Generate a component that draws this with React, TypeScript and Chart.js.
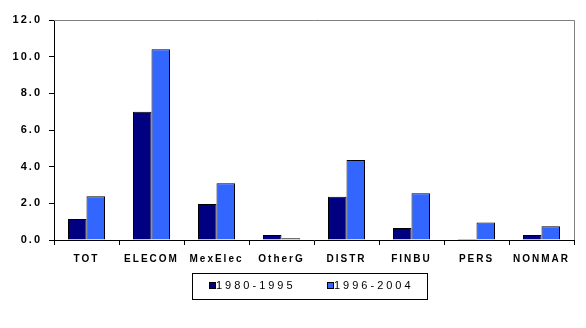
import React, { useEffect, useRef } from "react";
import { Chart, registerables } from "chart.js";

Chart.register(...registerables);

const categories = ["TOT", "ELECOM", "MexElec", "OtherG", "DISTR", "FINBU", "PERS", "NONMAR"];
const series1Label = "1980-1995";
const series2Label = "1996-2004";
const series1 = [1.15, 7.0, 1.96, 0.27, 2.36, 0.65, 0.05, 0.27];
const series2 = [2.38, 10.4, 3.09, 0.09, 4.36, 2.55, 0.96, 0.75];
const yTicks = [0, 2, 4, 6, 8, 10, 12];

const DARK = "#000080";
const LIGHT = "#3366FF";
const FONT = "Arial, 'Liberation Sans', sans-serif";

const spacingPlugin = {
  id: "spacing",
  beforeUpdate(chart: any) {
    chart.ctx.letterSpacing = "2px";
  },
  beforeDraw(chart: any) {
    chart.ctx.letterSpacing = "2px";
  },
  afterDraw(chart: any) {
    const ctx = chart.ctx;
    const a = chart.chartArea;
    ctx.save();
    // gray frame top/right
    ctx.strokeStyle = "#808080";
    ctx.lineWidth = 1;
    ctx.beginPath();
    ctx.moveTo(a.left, a.top + 0.5);
    ctx.lineTo(a.right + 0.5, a.top + 0.5);
    ctx.lineTo(a.right + 0.5, a.bottom);
    ctx.stroke();
    // legend
    const lx = 192, ly = 273, lw = 235, lh = 26;
    ctx.strokeStyle = "#000";
    ctx.strokeRect(lx + 0.5, ly + 0.5, lw, lh);
    const items = [
      { label: chart.data.datasets[0].label, color: DARK, x: 209 },
      { label: chart.data.datasets[1].label, color: LIGHT, x: 327 },
    ];
    ctx.font = `11px ${FONT}`;
    ctx.letterSpacing = "3px";
    ctx.textBaseline = "middle";
    ctx.fillStyle = "#000";
    for (const it of items) {
      ctx.fillStyle = it.color;
      ctx.fillRect(it.x, 282, 6, 6);
      ctx.strokeStyle = "#000";
      ctx.strokeRect(it.x + 0.5, 282.5, 6, 6);
      ctx.fillStyle = "#000";
      ctx.fillText(it.label, it.x + 7, 286);
    }
    ctx.restore();
  },
};

export default function App() {
  const ref = useRef<HTMLCanvasElement | null>(null);
  useEffect(() => {
    if (!ref.current) return;
    const chart = new Chart(ref.current, {
      type: "bar",
      data: {
        labels: categories,
        datasets: [
          {
            label: series1Label,
            data: series1,
            backgroundColor: DARK,
            borderColor: "#000",
            borderWidth: 1,
            barPercentage: 1,
            categoryPercentage: 0.57,
          },
          {
            label: series2Label,
            data: series2,
            backgroundColor: LIGHT,
            borderColor: "#000",
            borderWidth: 1,
            barPercentage: 1,
            categoryPercentage: 0.57,
          },
        ],
      },
      options: {
        animation: false,
        responsive: false,
        maintainAspectRatio: false,
        layout: { padding: { left: 0, right: 12, top: 20, bottom: 0 } },
        plugins: { legend: { display: false }, tooltip: { enabled: false } },
        scales: {
          x: {
            offset: true,
            grid: { display: true, drawOnChartArea: false, offset: true, tickLength: 5, color: "#000" },
            border: { color: "#000", width: 1 },
            ticks: { color: "#000", font: { family: FONT, size: 10, weight: "bold" }, padding: 8, maxRotation: 0 },
            afterFit(scale: any) {
              scale.height = 88;
            },
          },
          y: {
            min: 0,
            max: 12,
            afterBuildTicks(scale: any) {
              scale.ticks = yTicks.map((v) => ({ value: v }));
            },
            grid: { display: true, drawOnChartArea: false, tickLength: 5, color: "#000" },
            border: { color: "#000", width: 1 },
            ticks: {
              color: "#000",
              font: { family: FONT, size: 11, weight: "bold" },
              padding: 7,
              callback: (v: any) => Number(v).toFixed(1),
            },
            afterFit(scale: any) {
              scale.width = 54;
            },
          },
        },
      },
      plugins: [spacingPlugin],
    });
    return () => chart.destroy();
  }, []);
  return (
    <div style={{ position: "absolute", left: 0, top: 0, width: 586, height: 328, background: "#fff" }}>
      <canvas ref={ref} width={586} height={328} style={{ width: 586, height: 328 }} />
    </div>
  );
}
